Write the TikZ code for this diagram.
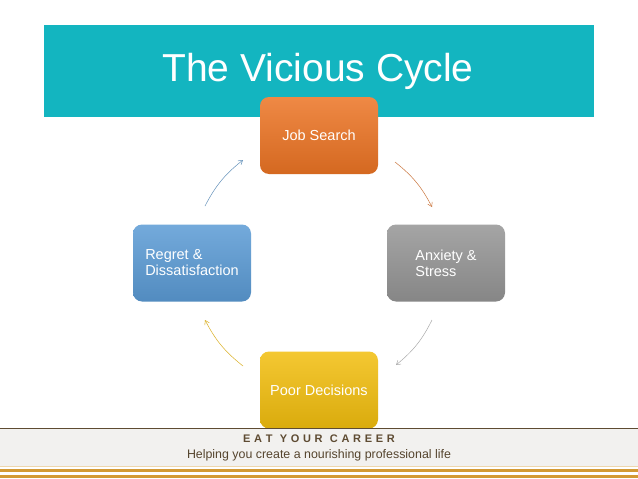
\documentclass[tikz,border=0pt]{standalone}
\usepackage{fontspec}
\setmainfont{Liberation Sans}
\usetikzlibrary{arrows.meta}
\definecolor{teal1}{HTML}{13B5C0}
\definecolor{org}{HTML}{EC7424}
\definecolor{gry}{HTML}{959595}
\definecolor{blu}{HTML}{5B9BD5}
\definecolor{yel}{HTML}{F2BE0E}
\definecolor{brn}{HTML}{5E4B32}
\definecolor{gold}{HTML}{D49A33}
\definecolor{band}{HTML}{F2F1EF}
\begin{document}
\begin{tikzpicture}[x=1pt,y=-1pt,
  cbox/.style={rounded corners=9pt,minimum width=118pt,minimum height=77pt,text=white,font=\fontsize{14.5}{16}\selectfont,align=left,inner sep=3pt},
  carr/.style={-{Straight Barb[length=4pt,width=5pt]},line width=0.5pt}]
\useasboundingbox (0,0) rectangle (638,479);
\fill[white] (0,0) rectangle (638,479);
\fill[teal1] (44,25) rectangle (594,117);
\node (title) at (318,71) {\fontsize{39}{44}\selectfont\color{white}The Vicious Cycle};
\node[cbox,top color=org!85!white,bottom color=org!90!black] (js) at (319,135.5) {Job Search};
\node[cbox,top color=gry!85!white,bottom color=gry!90!black] (ax) at (446,263) {Anxiety \&\\Stress};
\node[cbox,top color=blu!85!white,bottom color=blu!90!black] (rg) at (192,263) {Regret \&\\Dissatisfaction};
\node[cbox,top color=yel!85!white,bottom color=yel!90!black] (pd) at (319,390) {Poor Decisions};
\coordinate (a1) at (205,206); \coordinate (a2) at (243,160);
\coordinate (b1) at (395,162); \coordinate (b2) at (432,207);
\coordinate (c1) at (432,320); \coordinate (c2) at (396,365);
\coordinate (d1) at (243,366); \coordinate (d2) at (205,320);
\draw[carr,blu!70!gray] (a1) to[bend left=12] (a2);
\draw[carr,org!70!gray] (b1) to[bend left=12] (b2);
\draw[carr,gry!80] (c1) to[bend left=12] (c2);
\draw[carr,yel!80!gray] (d1) to[bend left=12] (d2);
\fill[band] (0,428) rectangle (638,467);
\draw[brn,line width=1pt] (0,428) -- (638,428);
\draw[gold!40,line width=0.5pt] (0,466) -- (638,466);
\fill[gold] (0,468.5) rectangle (638,471.5);
\fill[gold] (0,474.5) rectangle (638,477.5);
\node[text=brn,font=\bfseries\fontsize{11}{13}\selectfont] (brand) at (319,439) {E\,\,A\,\,T\,\,\,\,Y\,\,O\,\,U\,\,R\,\,\,\,C\,\,A\,\,R\,\,E\,\,E\,\,R};
\node[text=brn!90!black,font=\fontsize{12.4}{14}\selectfont] (tag) at (319,455) {Helping you create a nourishing professional life};
\end{tikzpicture}
\end{document}
